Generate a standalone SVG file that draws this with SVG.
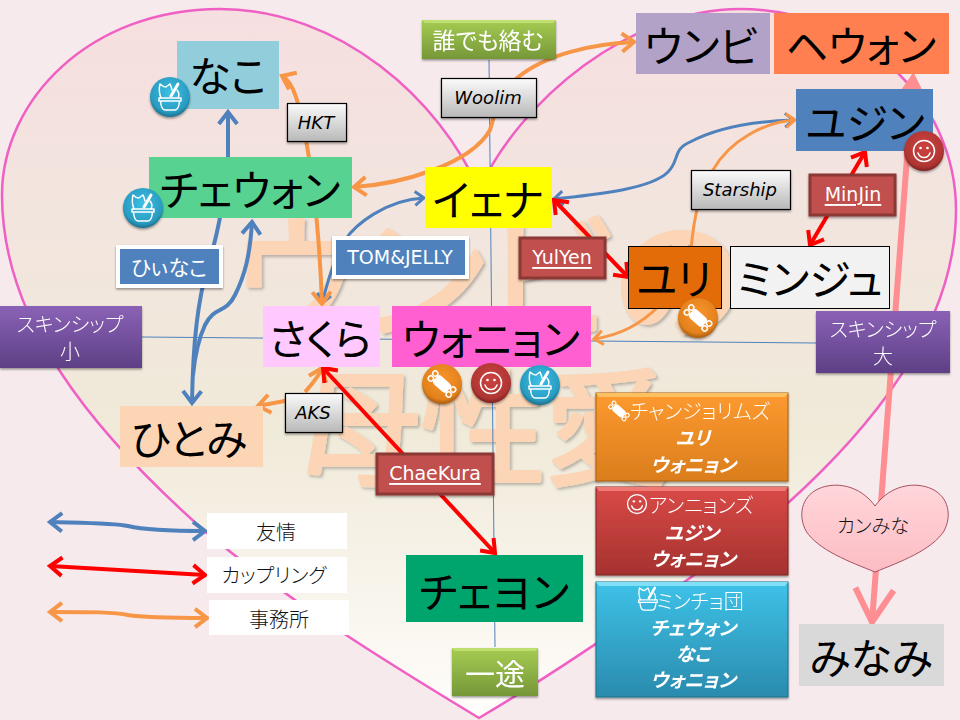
<svg xmlns="http://www.w3.org/2000/svg" width="960" height="720" viewBox="0 0 960 720">
<style>
text{font-family:"Noto Sans CJK JP","Noto Sans",sans-serif;text-anchor:middle;dominant-baseline:central;font-feature-settings:"palt"}
.n{font-size:42px;fill:#000}
.lat{font-family:"DejaVu Sans","Noto Sans CJK JP",sans-serif;font-size:18px}
.co{font-style:italic;fill:#000}
.w{fill:#fff}
.th{font-size:20px;font-weight:300;fill:#fff}
.bi{font-size:19px;font-weight:700;font-style:italic;fill:#fff}
.lg{font-size:20px;font-weight:300;fill:#111}
.grey{fill:url(#gGrey);stroke:#000;stroke-width:1.2}
.rd{fill:#c0504d;stroke:#8c3836;stroke-width:3}
.bl{fill:#4f81bd;stroke:#fff;stroke-width:4}
.bb{stroke:#4f81bd;stroke-width:4;fill:none;marker-start:url(#aB);marker-end:url(#aB)}
.b1{stroke:#4f81bd;stroke-width:4;fill:none;marker-start:url(#aB)}
.oo{stroke:#f79646;stroke-width:4;fill:none;marker-start:url(#aO);marker-end:url(#aO)}
.o1{stroke:#f79646;stroke-width:4;fill:none;marker-start:url(#aO)}
.rr{stroke:#f00;stroke-width:4;fill:none;marker-start:url(#aR);marker-end:url(#aR)}
.ax{stroke:#4f81bd;stroke-width:1;fill:none}
.sh{filter:url(#shadow)}
</style>
<defs>
<filter id="shadow" x="-10%" y="-10%" width="120%" height="125%"><feDropShadow dx="0" dy="1.5" stdDeviation="1.2" flood-color="#000" flood-opacity="0.4"/></filter>
<filter id="wm" x="-5%" y="-5%" width="110%" height="110%"><feDropShadow dx="2" dy="2" stdDeviation="1.5" flood-color="#000" flood-opacity="0.25"/></filter>
<marker id="aB" viewBox="-5 -4 6 8" refX="0" refY="0" markerWidth="6" markerHeight="8" orient="auto-start-reverse"><path d="M-3 -2.300L0 0L-3 2.300" fill="none" stroke="#4f81bd" stroke-width="1"/></marker>
<marker id="aO" viewBox="-5 -4 6 8" refX="0" refY="0" markerWidth="6" markerHeight="8" orient="auto-start-reverse"><path d="M-3 -2.300L0 0L-3 2.300" fill="none" stroke="#f79646" stroke-width="1"/></marker>
<marker id="aR" viewBox="-5 -4 6 8" refX="0" refY="0" markerWidth="6" markerHeight="8" orient="auto-start-reverse"><path d="M-3 -2.300L0 0L-3 2.300" fill="none" stroke="#f00" stroke-width="1"/></marker>
<marker id="aP" viewBox="-7 -5 8 10" refX="0" refY="0" markerWidth="8" markerHeight="10" orient="auto-start-reverse"><path d="M-5.500 -3.200L0 0L-5.500 3.200" fill="none" stroke="#ff8e92" stroke-width="1"/></marker>
<linearGradient id="gHeart" x1="0" y1="0" x2="0" y2="1"><stop offset="0" stop-color="#f6dfe0"/><stop offset="0.3" stop-color="#f2e5de"/><stop offset="0.6" stop-color="#f0ead9"/><stop offset="1" stop-color="#fffdfb"/></linearGradient>
<linearGradient id="gGrey" x1="0" y1="0" x2="0" y2="1"><stop offset="0" stop-color="#fbfbfb"/><stop offset="1" stop-color="#b8b8b8"/></linearGradient>
<linearGradient id="gGreen" x1="0" y1="0" x2="0" y2="1"><stop offset="0" stop-color="#a6cc52"/><stop offset="1" stop-color="#769738"/></linearGradient>
<linearGradient id="gPurple" x1="0" y1="0" x2="0" y2="1"><stop offset="0" stop-color="#8a62b6"/><stop offset="1" stop-color="#5e3f86"/></linearGradient>
<linearGradient id="gOr" x1="0" y1="0" x2="0" y2="1"><stop offset="0" stop-color="#fd9a30"/><stop offset="1" stop-color="#da7d1c"/></linearGradient>
<linearGradient id="gRe" x1="0" y1="0" x2="0" y2="1"><stop offset="0" stop-color="#d94a47"/><stop offset="1" stop-color="#a5322f"/></linearGradient>
<linearGradient id="gBl" x1="0" y1="0" x2="0" y2="1"><stop offset="0" stop-color="#3ec2e8"/><stop offset="1" stop-color="#2a8bad"/></linearGradient>
<linearGradient id="gH" x1="0" y1="0" x2="0" y2="1"><stop offset="0" stop-color="#ffd6da"/><stop offset="1" stop-color="#fdbcc4"/></linearGradient>
<radialGradient id="rB" cx="0.5" cy="0.4" r="0.6"><stop offset="0" stop-color="#3cc0e4"/><stop offset="0.8" stop-color="#2a9cc2"/><stop offset="1" stop-color="#1d708c"/></radialGradient>
<radialGradient id="rO" cx="0.5" cy="0.4" r="0.6"><stop offset="0" stop-color="#f9952c"/><stop offset="0.8" stop-color="#e3811d"/><stop offset="1" stop-color="#a85c10"/></radialGradient>
<radialGradient id="rR" cx="0.5" cy="0.4" r="0.6"><stop offset="0" stop-color="#cc4341"/><stop offset="0.8" stop-color="#b03633"/><stop offset="1" stop-color="#7e2322"/></radialGradient>
<g id="iIce" fill="none" stroke="#fff" stroke-width="1.500" stroke-linejoin="round" stroke-linecap="round"><path d="M-11 1H11V4H-11ZM-9.500 4C-9 10 -7 13 -5 13H5C7 13 9 10 9.500 4"/><path d="M-9 1C-11 -4 -11 -9 -10 -13C-8 -11 -6 -10 -4 -10C-3 -11 -1 -12 0 -13C1 -11 1.500 -9 2 -7"/><path d="M1 -1L8 -13" stroke-width="3"/><path d="M7 -7C9.500 -4 9 -1 8 1"/></g>
<g id="iCan" transform="rotate(42)"><rect x="-9" y="-5.500" width="18" height="11" rx="3.500" fill="#fff"/><g fill="none" stroke="#fff" stroke-width="1.500"><circle cx="-12" cy="-3.300" r="2.600"/><circle cx="-12" cy="3.300" r="2.600"/><circle cx="12" cy="-3.300" r="2.600"/><circle cx="12" cy="3.300" r="2.600"/></g></g>
<g id="iSmi" fill="none" stroke="#fff" stroke-width="1.500"><circle r="10.500"/><path d="M-6 2C-4 8 4 8 6 2" stroke-linecap="round"/><circle cx="-3.500" cy="-3" r="1.300" fill="#fff" stroke="none"/><circle cx="3.500" cy="-3" r="1.300" fill="#fff" stroke="none"/></g>
<circle id="cB" r="20" fill="url(#rB)"/><circle id="cO" r="20" fill="url(#rO)"/><circle id="cR" r="20" fill="url(#rR)"/>
</defs>

<rect width="960" height="720" fill="#f6eaec"/>
<path id="heart" d="M479 190C440 100 340 9 220 9C90 9 2 100 2 195C2 320 90 430 207 533C300 610 400 670 479 718C560 670 680 590 788 503C880 420 956 320 956 210C956 100 860 9 740 9C630 9 520 100 479 190Z" fill="url(#gHeart)" stroke="#f060c4" stroke-width="2.500"/>
<g id="watermark" fill="#fbd5b5" stroke="#fbd5b5" stroke-width="4" stroke-linejoin="round" filter="url(#wm)">
<text x="484" y="270" font-size="135" style="font-feature-settings:normal;letter-spacing:-8px">ウンビの</text>
<text x="483" y="420" font-size="125" style="font-feature-settings:normal">母性愛</text>
</g>
<g id="axes"><path class="ax" d="M142 337L816 343"/><path class="ax" d="M489 60L495 647"/></g>

<g id="connectors">
<path class="bb" d="M228 112L228 157C226 190 218 235 208 265C198 300 193 340 192 403"/>
<path class="b1" d="M252 222C250 255 245 275 235 295C225 315 215 305 205 325C198 340 195 355 193 375"/>
<path class="bb" style="stroke-width:3" d="M424 198C385 200 355 225 345 240C335 255 328 280 322 303"/>
<path class="oo" d="M282 76C295 82 300 110 306 140C315 190 320 250 322 304"/>
<path class="oo" d="M354 187C400 184 470 165 490 130C495 115 495 100 517 78C545 55 590 44 634 42"/>
<path class="bb" style="stroke-width:3" d="M554 199C590 195 650 190 668 172C680 160 672 150 690 142C720 126 760 121 794 120"/>
<path class="o1" style="stroke-width:3" d="M795 120C765 122 730 140 713 170C700 190 694 215 691 250"/>
<path class="o1" style="stroke-width:3" d="M594 339C620 335 640 325 660 305"/>
<path class="o1" d="M258 406L290 400"/>
<path class="o1" d="M322 368C318 378 312 384 305 392"/>
<path class="rr" d="M554 200L628 277"/>
<path class="rr" d="M865 152L810 245"/>
<path class="rr" d="M323 368L495 553"/>
<path d="M913 78L872 622" stroke="#ff8e92" stroke-width="6" fill="none" marker-start="url(#aP)" marker-end="url(#aP)"/>
<path class="bb" d="M50 522C90 523 115 523 128 526C145 530 180 531 205 531"/>
<path class="rr" d="M50 566L205 575"/>
<path class="oo" d="M50 612C90 612 115 612 128 615C145 618 180 618 207 618"/>
</g>

<g id="nako"><rect x="177" y="41" width="102" height="68" fill="#92cddc"/><text class="n" x="228" y="73">なこ</text></g>
<g id="chaewon"><rect x="149" y="157" width="203" height="61" fill="#57d291"/><text class="n" x="250" y="187">チェウォン</text></g>
<g id="yena"><rect x="425" y="167" width="127" height="61" fill="#ff0"/><text class="n" x="488" y="197">イェナ</text></g>
<g id="eunbi"><rect x="636" y="13" width="134" height="61" fill="#b2a2c7"/><text class="n" x="701" y="43">ウンビ</text></g>
<g id="hyewon"><rect x="774" y="13" width="175" height="61" fill="#ff7f50"/><text class="n" x="861" y="43">ヘウォン</text></g>
<g id="yujin"><rect x="796" y="89" width="137" height="62" fill="#4f81bd"/><text class="n" x="865" y="120">ユジン</text></g>
<g id="minju"><rect x="730.500" y="246.500" width="159" height="62" fill="#f2f2f2" stroke="#000"/><text class="n" x="810" y="276">ミンジュ</text></g>
<g id="yuri"><rect x="628.500" y="246.500" width="93" height="62" fill="#e36c09" stroke="#000"/><text class="n" x="674" y="276">ユリ</text></g>
<g id="sakura"><rect x="263" y="306" width="117" height="61" fill="#ffc9ff"/><text class="n" x="320" y="336">さくら</text></g>
<g id="wonyoung"><rect x="392" y="306" width="199" height="61" fill="#ff5fd0"/><text class="n" x="491" y="336">ウォニョン</text></g>
<g id="hitomi"><rect x="120" y="406" width="143" height="61" fill="#fcd5b5"/><text class="n" x="189" y="436">ひとみ</text></g>
<g id="chaeyeon"><rect x="406" y="555" width="177" height="67" fill="#00a56e"/><text class="n" x="494" y="589">チェヨン</text></g>
<g id="minami"><rect x="799" y="624" width="145" height="62" fill="#d9d9d9"/><text class="n" x="871" y="655">みなみ</text></g>

<g id="dareka" class="sh"><rect x="422" y="20" width="134" height="39" fill="url(#gGreen)"/><path d="M422 20H556L553 23H425Z" fill="#bfe070"/><text class="w" x="488" y="39" font-size="23">誰でも絡む</text></g>
<g id="itto" class="sh"><rect x="452" y="648" width="86" height="48" fill="url(#gGreen)"/><path d="M452 648H538L535 651H455Z" fill="#bfe070"/><text class="w" x="495" y="672" font-size="30">一途</text></g>
<g id="skinship-small" class="sh"><rect x="0" y="306" width="142" height="62" fill="url(#gPurple)"/><text class="th" x="70" y="323">スキンシップ</text><text class="th" x="70" y="350">小</text></g>
<g id="skinship-big" class="sh"><rect x="816" y="311" width="134" height="62" fill="url(#gPurple)"/><text class="th" x="883" y="328">スキンシップ</text><text class="th" x="883" y="355">大</text></g>

<g id="hkt"><rect class="grey sh" x="287.500" y="103.500" width="59" height="38"/><text class="lat co" x="316" y="122">HKT</text></g>
<g id="woolim"><rect class="grey sh" x="441.500" y="78.500" width="95" height="39"/><text class="lat co" x="488" y="97">Woolim</text></g>
<g id="starship"><rect class="grey sh" x="691.500" y="170.500" width="99" height="39"/><text class="lat co" x="740" y="189">Starship</text></g>
<g id="aks"><rect class="grey sh" x="285.500" y="393.500" width="57" height="39"/><text class="lat co" x="313" y="412">AKS</text></g>

<g id="tomjelly"><rect class="bl sh" x="334" y="238" width="133" height="39"/><text class="lat w" x="400" y="257" style="font-size:19px">TOM&amp;JELLY</text></g>
<g id="hiinako"><rect class="bl sh" x="118" y="247" width="103" height="39"/><text class="w" x="169" y="266" font-size="21">ひぃなこ</text></g>

<g id="minjin"><rect class="rd sh" x="810" y="175" width="85" height="40"/><text class="lat w" x="853" y="194" text-decoration="underline" style="font-size:19px">MinJin</text></g>
<g id="yulyen"><rect class="rd sh" x="520" y="238" width="85" height="40"/><text class="lat w" x="562" y="257" text-decoration="underline" style="font-size:19px">YulYen</text></g>
<g id="chaekura"><rect class="rd sh" x="377" y="454" width="116" height="40"/><text class="lat w" x="435" y="473" text-decoration="underline" style="font-size:19px">ChaeKura</text></g>

<g id="group-changjo" class="sh"><rect x="596" y="393" width="192" height="88" fill="url(#gOr)" stroke="#a86010"/><path d="M596 393H788L785 397H599Z" fill="#fcc060"/><use href="#iCan" transform="translate(619 411) scale(.75)"/><text class="th" x="700" y="410">チャンジョリムズ</text><text class="bi" x="693" y="436">ユリ</text><text class="bi" x="693" y="463">ウォニョン</text></g>
<g id="group-annyeong" class="sh"><rect x="596" y="487" width="192" height="88" fill="url(#gRe)" stroke="#7e2322"/><path d="M596 487H788L785 491H599Z" fill="#ef7a76"/><use href="#iSmi" transform="translate(637 504) scale(.9)"/><text class="th" x="701" y="504">アンニョンズ</text><text class="bi" x="692" y="531">ユジン</text><text class="bi" x="693" y="557">ウォニョン</text></g>
<g id="group-mincho" class="sh"><rect x="596" y="582" width="192" height="115" fill="url(#gBl)" stroke="#1d708c"/><path d="M596 582H788L785 586H599Z" fill="#80e0f8"/><use href="#iIce" transform="translate(648 599) scale(.85)"/><text class="th" x="700" y="600">ミンチョ団</text><text class="bi" x="693" y="626">チェウォン</text><text class="bi" x="693" y="652">なこ</text><text class="bi" x="693" y="678">ウォニョン</text></g>

<g id="kanminami"><path d="M875 506C860 485 835 481 818 489C801 497 798 516 806 531C818 550 850 562 875 572C900 562 932 550 944 531C952 516 949 497 932 489C915 481 890 485 875 506Z" fill="url(#gH)" stroke="#a85060" stroke-width="1"/><text x="873" y="524" font-size="19" font-weight="300" fill="#111">カンみな</text></g>

<g id="legend">
<rect x="207" y="513" width="140" height="36" fill="#fff"/><text class="lg" x="276" y="531">友情</text>
<rect x="207" y="557" width="140" height="36" fill="#fff"/><text class="lg" x="274" y="574">カップリング</text>
<rect x="209" y="600" width="140" height="35" fill="#fff"/><text class="lg" x="279" y="618">事務所</text>
</g>

<g id="badges">
<g class="sh" transform="translate(170 97)"><use href="#cB"/><use href="#iIce"/></g>
<g class="sh" transform="translate(143 208)"><use href="#cB"/><use href="#iIce"/></g>
<g class="sh" transform="translate(540 385)"><use href="#cB"/><use href="#iIce"/></g>
<g class="sh" transform="translate(698 318)"><use href="#cO"/><use href="#iCan"/></g>
<g class="sh" transform="translate(442 384)"><use href="#cO"/><use href="#iCan"/></g>
<g class="sh" transform="translate(491 383)"><use href="#cR"/><use href="#iSmi"/></g>
<g class="sh" transform="translate(924 151)"><use href="#cR"/><use href="#iSmi"/></g>
</g>
</svg>
